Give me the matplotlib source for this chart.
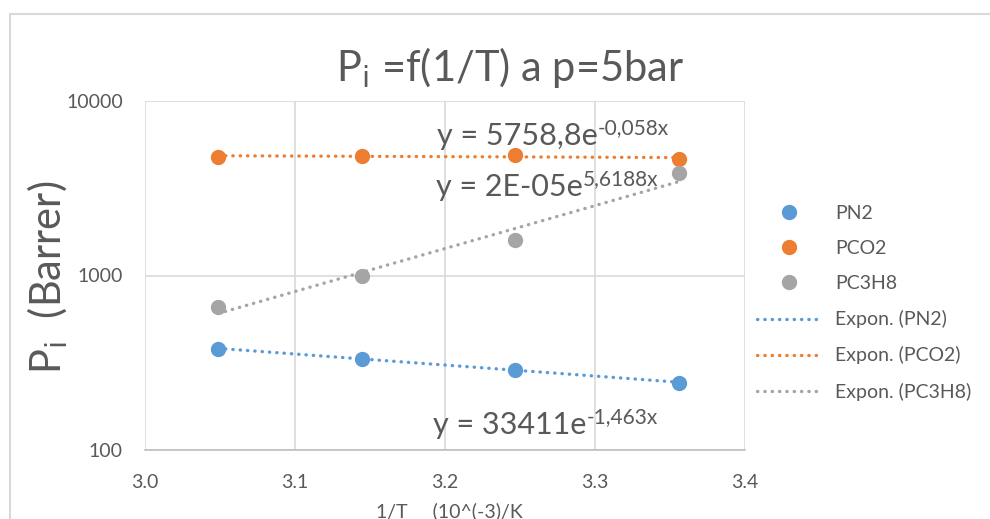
import numpy as np
import matplotlib
matplotlib.use('Agg')
import matplotlib.pyplot as plt
from matplotlib.patches import Rectangle

# 1/T in 10^-3 1/K (T = 55, 45, 35, 25 degC)
inv_T = [3.0488, 3.1447, 3.2468, 3.3557]
P_N2 = [380, 334, 289, 243]
P_CO2 = [4800, 4840, 4900, 4660]
P_C3H8 = [658, 1000, 1600, 3850]

series = ['PN2', 'PCO2', 'PC3H8']
colors = ['#5B9BD5', '#ED7D31', '#A5A5A5']
eq_base = ['y = 33411e', 'y = 5758,8e', 'y = 2E-05e']
eq_exp = ['-1,463x', '-0,058x', '5,6188x']
eq_pos = [(3.192, 140), (3.195, 6300), (3.194, 3200)]

plt.rcParams['font.family'] = ['Lato', 'DejaVu Sans']
plt.rcParams['mathtext.default'] = 'regular'
txt = '#595959'

fig = plt.figure(figsize=(9.9, 5.19), dpi=100)
fig.patches.append(Rectangle((10 / 990, -0.1), 1.0, 1 - 14 / 519 + 0.1, transform=fig.transFigure,
                             fill=False, edgecolor='#d9d9d9', linewidth=1.5))
ax = fig.add_axes([145 / 990, 1 - 450 / 519, 600 / 990, 349 / 519])

data = [P_N2, P_CO2, P_C3H8]
for name, y, c in zip(series, data, colors):
    ax.plot(inv_T, y, 'o', color=c, markersize=10, label=name, zorder=3)

for name, y, c in zip(series, data, colors):
    b, ln_a = np.polyfit(inv_T, np.log(y), 1)
    xs = np.linspace(inv_T[0], inv_T[-1], 50)
    ax.plot(xs, np.exp(ln_a + b * xs), linestyle=(0, (0.1, 2.1)), dash_capstyle='round',
            color=c, linewidth=2.4, label='Expon. (%s)' % name, zorder=2)

for base, ex, (x, y) in zip(eq_base, eq_exp, eq_pos):
    t = ax.text(x, y, base, fontsize=22, color=txt, ha='left', va='center', zorder=4)
    ax.annotate(ex, xy=(1.0, 0.78), xycoords=t, fontsize=15, color=txt,
                ha='left', va='center', zorder=4)

ax.set_yscale('log')
ax.set_xlim(3.0, 3.4)
ax.set_ylim(100, 10000)
ax.set_xticks([3.0, 3.1, 3.2, 3.3, 3.4])
ax.set_xticklabels(['3.0', '3.1', '3.2', '3.3', '3.4'])
ax.set_yticks([100, 1000, 10000])
ax.set_yticklabels(['100', '1000', '10000'])
ax.yaxis.set_minor_locator(matplotlib.ticker.NullLocator())
ax.grid(True, color='#d9d9d9', linewidth=1.2)
ax.set_axisbelow(True)
for s in ['top', 'right', 'left']:
    ax.spines[s].set_visible(False)
ax.spines['bottom'].set_color('#bfbfbf')
ax.spines['bottom'].set_linewidth(1.2)
ax.tick_params(length=0, labelsize=14, labelcolor=txt)
ax.tick_params(axis='y', pad=16)
ax.tick_params(axis='x', pad=17)

fig.text(510 / 990, 1 - 68 / 519, r'P$_{\rm i}$ =f(1/T) a p=5bar', fontsize=30, color=txt,
         ha='center', va='center')
fig.text(48 / 990, 1 - 277 / 519, r'P$_{\rm i}$  (Barrer)', fontsize=30, color=txt,
         rotation=90, ha='center', va='center')
fig.text(449 / 990, 1 - 511 / 519, '1/T     (10^(-3)/K', fontsize=14, color=txt,
         ha='center', va='center')

handles, labels = ax.get_legend_handles_labels()
fig.legend(handles, labels, loc='upper left', bbox_to_anchor=(757 / 990, 1 - 205 / 519),
           frameon=False, fontsize=14, labelcolor=txt, handlelength=3.25, labelspacing=0.93,
           handletextpad=0.75, borderpad=0, borderaxespad=0)

fig.savefig('out.png', dpi=100)
